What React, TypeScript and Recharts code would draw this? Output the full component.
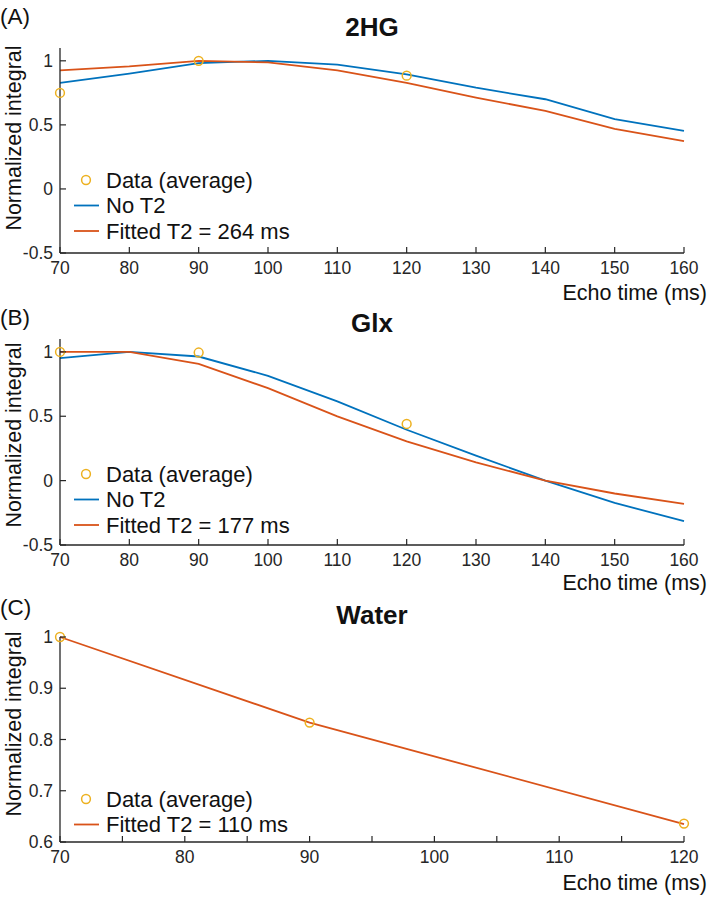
import React from 'react';
import { ComposedChart, Line, Scatter, XAxis, YAxis, Legend, Customized } from 'recharts';

const FONT = '"Liberation Sans", Arial, Helvetica, sans-serif';
const AXIS = '#262626';
const TEXT = '#111111';
const BLUE = '#0072BD';
const RED = '#D95319';
const YELLOW = '#EDB120';

// ---------- Panel A: 2HG ----------
const hgEchoTimes = [70, 80, 90, 100, 110, 120, 130, 140, 150, 160];
const hgNoT2 = [0.827, 0.9, 0.982, 1.0, 0.97, 0.894, 0.79, 0.7, 0.544, 0.453];
const hgFitted = [0.925, 0.956, 1.0, 0.988, 0.925, 0.827, 0.713, 0.609, 0.469, 0.373];
const hgDataTimes = [70, 90, 120];
const hgDataValues = [0.749, 1.0, 0.884];

// ---------- Panel B: Glx ----------
const glxEchoTimes = [70, 80, 90, 100, 110, 120, 130, 140, 150, 160];
const glxNoT2 = [0.951, 1.0, 0.964, 0.814, 0.615, 0.395, 0.194, 0.0, -0.173, -0.315];
const glxFitted = [1.0, 1.0, 0.907, 0.718, 0.499, 0.305, 0.142, 0.0, -0.1, -0.18];
const glxDataTimes = [70, 90, 120];
const glxDataValues = [1.0, 0.995, 0.44];

// ---------- Panel C: Water ----------
const waterEchoTimes = [70, 90, 120];
const waterFitted = [1.0, 0.833, 0.635];
const waterDataTimes = [70, 90, 120];
const waterDataValues = [1.0, 0.833, 0.636];

// ---------- Axis ticks ----------
const xTicksLong = [70, 80, 90, 100, 110, 120, 130, 140, 150, 160];
const yTicksAB = [-0.5, 0, 0.5, 1];
const xTicksWater = [70, 75, 80, 85, 90, 95, 100, 105, 110, 115, 120];
const xLabelsWater = [70, 80, 90, 100, 110, 120];
const yTicksWater = [0.6, 0.7, 0.8, 0.9, 1];

// ---------- Text ----------
const panelLetters = ['(A)', '(B)', '(C)'];
const panelTitles = ['2HG', 'Glx', 'Water'];
const xAxisTitle = 'Echo time (ms)';
const yAxisTitle = 'Normalized integral';
const dataName = 'Data (average)';
const noT2Name = 'No T2';
const fittedNames = ['Fitted T2 = 264 ms', 'Fitted T2 = 177 ms', 'Fitted T2 = 110 ms'];

type Series = { key: string; name: string; color: string };
type LegendEntry = { name: string; color: string; kind: 'circle' | 'line' };

const buildRows = (times: number[], cols: Record<string, number[]>) =>
  times.map((t, i) => {
    const r: Record<string, number> = { t };
    Object.keys(cols).forEach((k) => (r[k] = cols[k][i]));
    return r;
  });

const buildPoints = (times: number[], vals: number[]) => times.map((t, i) => ({ t, v: vals[i] }));

const PLOT_LEFT = 60;
const PLOT_RIGHT = 684;
const W = 709;

const makeXTick = (labels: number[] | null) => (props: any) => {
  const { x, y, payload } = props;
  const v = payload.value;
  const show = labels ? labels.includes(v) : true;
  return (
    <g>
      <line x1={x} x2={x} y1={y} y2={y - 6} stroke={AXIS} strokeWidth={1.2} />
      {show && (
        <text x={x} y={y + 21} textAnchor="middle" fontSize={17.5} fontFamily={FONT} fill={AXIS}>
          {String(v)}
        </text>
      )}
    </g>
  );
};

const YTick = (props: any) => {
  const { x, y, payload } = props;
  return (
    <g>
      <line x1={x} x2={x + 6} y1={y} y2={y} stroke={AXIS} strokeWidth={1.2} />
      <text x={x - 7} y={y} textAnchor="end" dominantBaseline="central" fontSize={17.5} fontFamily={FONT} fill={AXIS}>
        {String(payload.value)}
      </text>
    </g>
  );
};

const DataCircle = (props: any) => {
  const { cx, cy } = props;
  if (cx == null || cy == null) return <g />;
  return <circle cx={cx} cy={cy} r={4.4} fill="none" stroke={YELLOW} strokeWidth={1.5} />;
};

const LegendBox = ({ entries }: { entries: LegendEntry[] }) => (
  <svg width={300} height={entries.length * 25.5 + 8} style={{ display: 'block', overflow: 'visible' }}>
    {entries.map((e, i) => {
      const cy = 14 + i * 25.5;
      return (
        <g key={i}>
          {e.kind === 'circle' ? (
            <circle cx={26} cy={cy} r={4.4} fill="none" stroke={e.color} strokeWidth={1.5} />
          ) : (
            <line x1={14} x2={39} y1={cy} y2={cy} stroke={e.color} strokeWidth={1.8} />
          )}
          <text x={46} y={cy} dominantBaseline="central" fontSize={22} fontFamily={FONT} fill={TEXT}>
            {e.name}
          </text>
        </g>
      );
    })}
  </svg>
);

type PanelProps = {
  top: number;
  height: number;
  plotTop: number;
  plotBottom: number;
  letterY: number;
  titleY: number;
  xLabelY: number;
  yLabelY: number;
  legendY: number;
  letter: string;
  title: string;
  rows: Record<string, number>[];
  points: { t: number; v: number }[];
  series: Series[];
  legend: LegendEntry[];
  xDomain: [number, number];
  xTicks: number[];
  xLabels: number[] | null;
  yDomain: [number, number];
  yTicks: number[];
};

const Panel = (p: PanelProps) => {
  const marginTop = p.plotTop - p.top;
  const xAxisHeight = p.top + p.height - p.plotBottom;
  const centerX = (PLOT_LEFT + PLOT_RIGHT) / 2;
  return (
    <div style={{ position: 'absolute', left: 0, top: p.top, width: W, height: p.height }}>
      <ComposedChart
        width={W}
        height={p.height}
        data={p.rows}
        margin={{ top: marginTop, right: W - PLOT_RIGHT, bottom: 0, left: 0 }}
      >
        <XAxis
          dataKey="t"
          type="number"
          domain={p.xDomain}
          ticks={p.xTicks}
          interval={0}
          height={xAxisHeight}
          tickSize={0}
          tickMargin={0}
          tickLine={false}
          axisLine={{ stroke: AXIS, strokeWidth: 1.3 }}
          tick={makeXTick(p.xLabels)}
        />
        <YAxis
          type="number"
          domain={p.yDomain}
          ticks={p.yTicks}
          interval={0}
          width={PLOT_LEFT}
          tickSize={0}
          tickMargin={0}
          tickLine={false}
          axisLine={{ stroke: AXIS, strokeWidth: 1.3 }}
          tick={YTick}
        />
        <Scatter data={p.points} dataKey="v" shape={DataCircle} isAnimationActive={false} legendType="none" />
        {p.series.map((s) => (
          <Line
            key={s.key}
            type="linear"
            dataKey={s.key}
            name={s.name}
            stroke={s.color}
            strokeWidth={1.8}
            dot={false}
            activeDot={false}
            isAnimationActive={false}
          />
        ))}
        <Legend
          layout="horizontal"
          verticalAlign="middle"
          align="center"
          wrapperStyle={{ left: 60, top: p.legendY - 14, width: 300 }}
          content={() => <LegendBox entries={p.legend} />}
        />
        <Customized
          component={() => (
            <g fontFamily={FONT} fill={TEXT}>
              <text x={0} y={p.letterY} dominantBaseline="central" fontSize={22.5} fill={TEXT}>
                {p.letter}
              </text>
              <text
                x={centerX}
                y={p.titleY}
                textAnchor="middle"
                dominantBaseline="central"
                fontSize={26}
                fontWeight="bold"
                fill={TEXT}
              >
                {p.title}
              </text>
              <text x={707} y={p.xLabelY} textAnchor="end" dominantBaseline="central" fontSize={21.5} fill={TEXT}>
                {xAxisTitle}
              </text>
              <text
                transform={`translate(14, ${p.yLabelY}) rotate(-90)`}
                textAnchor="middle"
                dominantBaseline="central"
                fontSize={21.5}
                fill={TEXT}
              >
                {yAxisTitle}
              </text>
            </g>
          )}
        />
      </ComposedChart>
    </div>
  );
}

export default function App() {
  const abSeries = (fitName: string): Series[] => [
    { key: 'noT2', name: noT2Name, color: BLUE },
    { key: 'fitted', name: fitName, color: RED },
  ];
  const abLegend = (fitName: string): LegendEntry[] => [
    { name: dataName, color: YELLOW, kind: 'circle' },
    { name: noT2Name, color: BLUE, kind: 'line' },
    { name: fitName, color: RED, kind: 'line' },
  ];
  return (
    <div style={{ position: 'absolute', left: 0, top: 0, width: W, height: 898, background: '#ffffff' }}>
      <Panel
        top={0}
        height={312}
        plotTop={48}
        plotBottom={253}
        letterY={16}
        titleY={27}
        xLabelY={293}
        yLabelY={138}
        legendY={180}
        letter={panelLetters[0]}
        title={panelTitles[0]}
        rows={buildRows(hgEchoTimes, { noT2: hgNoT2, fitted: hgFitted })}
        points={buildPoints(hgDataTimes, hgDataValues)}
        series={abSeries(fittedNames[0])}
        legend={abLegend(fittedNames[0])}
        xDomain={[70, 160]}
        xTicks={xTicksLong}
        xLabels={null}
        yDomain={[-0.5, 1.1]}
        yTicks={yTicksAB}
      />
      <Panel
        top={290}
        height={312}
        plotTop={339}
        plotBottom={545}
        letterY={27}
        titleY={33}
        xLabelY={293}
        yLabelY={145}
        legendY={184}
        letter={panelLetters[1]}
        title={panelTitles[1]}
        rows={buildRows(glxEchoTimes, { noT2: glxNoT2, fitted: glxFitted })}
        points={buildPoints(glxDataTimes, glxDataValues)}
        series={abSeries(fittedNames[1])}
        legend={abLegend(fittedNames[1])}
        xDomain={[70, 160]}
        xTicks={xTicksLong}
        xLabels={null}
        yDomain={[-0.5, 1.1]}
        yTicks={yTicksAB}
      />
      <Panel
        top={580}
        height={318}
        plotTop={637}
        plotBottom={842}
        letterY={27}
        titleY={35}
        xLabelY={303}
        yLabelY={144}
        legendY={219}
        letter={panelLetters[2]}
        title={panelTitles[2]}
        rows={buildRows(waterEchoTimes, { fitted: waterFitted })}
        points={buildPoints(waterDataTimes, waterDataValues)}
        series={[{ key: 'fitted', name: fittedNames[2], color: RED }]}
        legend={[
          { name: dataName, color: YELLOW, kind: 'circle' },
          { name: fittedNames[2], color: RED, kind: 'line' },
        ]}
        xDomain={[70, 120]}
        xTicks={xTicksWater}
        xLabels={xLabelsWater}
        yDomain={[0.6, 1]}
        yTicks={yTicksWater}
      />
    </div>
  );
}
